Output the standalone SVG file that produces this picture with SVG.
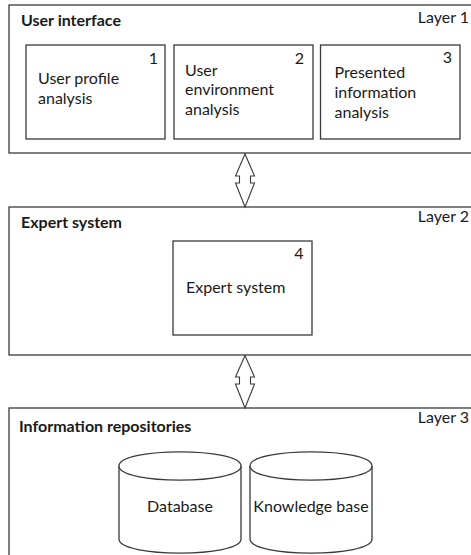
<svg xmlns="http://www.w3.org/2000/svg" width="471" height="555" viewBox="0 0 471 555">
  <style>
    .layer { fill: #ffffff; stroke: #3a3a3a; stroke-width: 1.3; }
    .box { fill: #ffffff; stroke: #3a3a3a; stroke-width: 1.3; }
    .cyl { fill: #ffffff; stroke: #3a3a3a; stroke-width: 1.3; }
    .arrow { fill: #ffffff; stroke: #3a3a3a; stroke-width: 1.1; stroke-linejoin: miter; }
    text { font-family: Lato, "Liberation Sans", sans-serif; font-size: 16px; fill: #1a1a1a; }
    .title { font-weight: bold; }
    .num { text-anchor: end; }
    .mid { text-anchor: middle; }
    .tag { text-anchor: end; }
  </style>
  <rect width="471" height="555" fill="#ffffff"/>

  <!-- Layer 1: user interface -->
  <g id="layer1">
    <rect class="layer" x="9" y="5" width="480" height="148"/>
    <text class="title" x="21" y="25.5">User interface</text>
    <text class="tag" x="469" y="23">Layer 1</text>
  </g>
  <g id="node1">
    <rect class="box" x="26" y="45" width="139" height="94"/>
    <text class="num" x="158" y="64">1</text>
    <text x="38" y="84">User profile</text>
    <text x="38" y="103.5">analysis</text>
  </g>
  <g id="node2">
    <rect class="box" x="174" y="45" width="139" height="94"/>
    <text class="num" x="304" y="63.5">2</text>
    <text x="185" y="75.5">User</text>
    <text x="185" y="95">environment</text>
    <text x="185" y="115">analysis</text>
  </g>
  <g id="node3">
    <rect class="box" x="320.5" y="45" width="139.5" height="94"/>
    <text class="num" x="452" y="63">3</text>
    <text x="334.5" y="77.5">Presented</text>
    <text x="334.5" y="98">information</text>
    <text x="334.5" y="118">analysis</text>
  </g>

  <!-- Layer 2: expert system -->
  <g id="layer2">
    <rect class="layer" x="9" y="207" width="480" height="148"/>
    <text class="title" x="21" y="227.5">Expert system</text>
    <text class="tag" x="469" y="221.5">Layer 2</text>
  </g>
  <g id="node4">
    <rect class="box" x="173" y="241" width="139" height="94"/>
    <text class="num" x="303.5" y="259">4</text>
    <text x="186" y="292.5">Expert system</text>
  </g>

  <!-- Layer 3: information repositories -->
  <g id="layer3">
    <rect class="layer" x="9" y="408" width="480" height="160"/>
    <text class="title" x="19" y="431.5">Information repositories</text>
    <text class="tag" x="469" y="422.5">Layer 3</text>
  </g>
  <g id="database">
    <path class="cyl" d="M119,466 C119,447.3 241,447.3 241,466 L241,539 C241,557.7 119,557.7 119,539 Z"/>
    <path class="cyl" fill="none" d="M119,466 C119,484.7 241,484.7 241,466"/>
    <text class="mid" x="180" y="511.5">Database</text>
  </g>
  <g id="knowledge-base">
    <path class="cyl" d="M250,466 C250,447.3 372,447.3 372,466 L372,539 C372,557.7 250,557.7 250,539 Z"/>
    <path class="cyl" fill="none" d="M250,466 C250,484.7 372,484.7 372,466"/>
    <text class="mid" x="311" y="511.5">Knowledge base</text>
  </g>

  <!-- Two-way connectors between layers -->
  <g id="connectors">
    <polygon class="arrow" points="245,154 235.5,176 239.5,176 239.5,183 235.5,183 245,207 254.5,183 250.5,183 250.5,176 254.5,176"/>
    <polygon class="arrow" points="245,355.5 235.5,377 239.5,377 239.5,384 235.5,384 245,408 254.5,384 250.5,384 250.5,377 254.5,377"/>
  </g>
</svg>
